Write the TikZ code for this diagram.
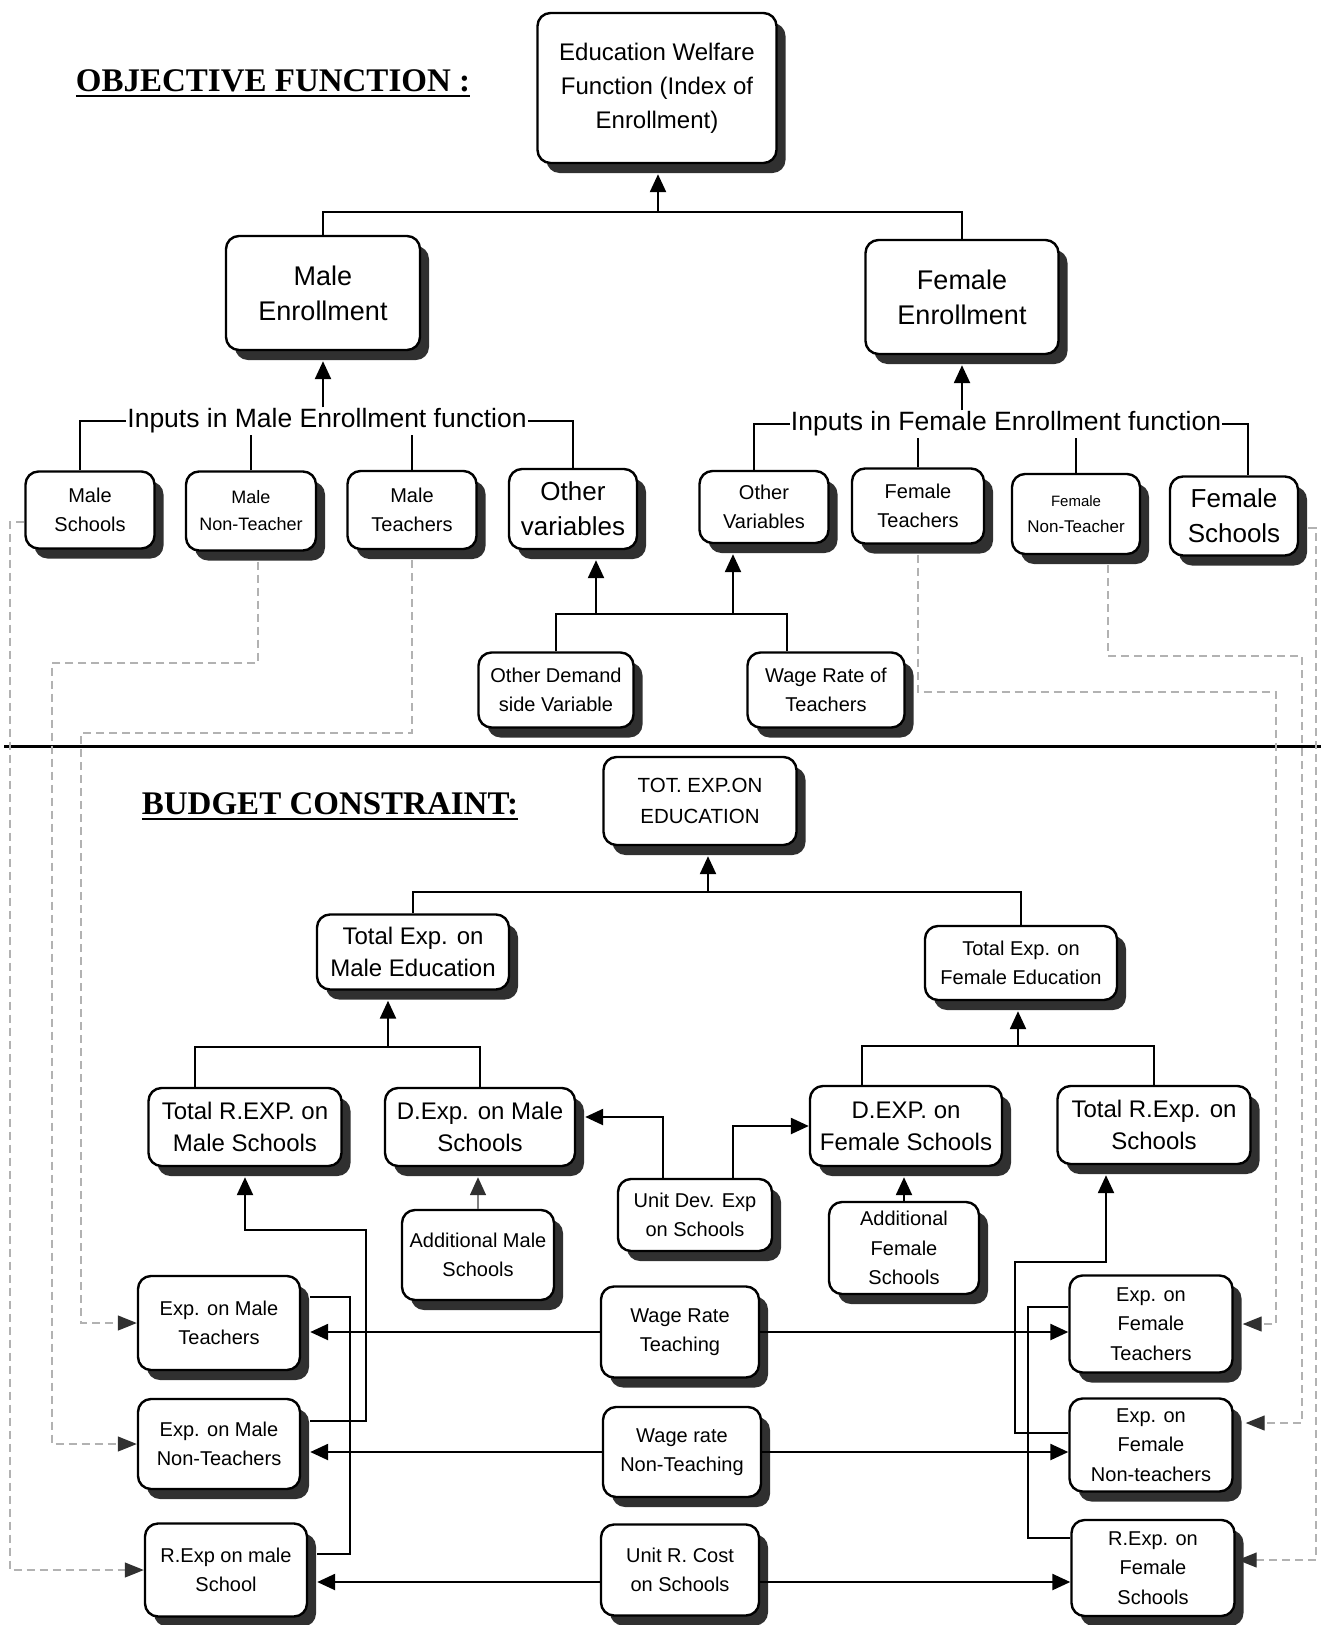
\documentclass[tikz,border=0pt]{standalone}
\usepackage{fontspec}
\setmainfont{Liberation Sans}
\newfontfamily\titlefont{Liberation Serif}
\usepackage{tikz}
\usetikzlibrary{arrows.meta, shadows}
\definecolor{shade}{RGB}{48,48,48}
\newcommand{\ulbar}[1]{\setbox0=\hbox{#1}\rlap{\rule[-6pt]{\wd0}{2.2pt}}\box0}

\begin{document}
\begin{tikzpicture}[x=1pt, y=-1pt,
  blk/.style={rectangle, draw, line width=2.4pt, rounded corners=13pt, fill=white,
              align=center, inner sep=2pt,
              drop shadow={shadow xshift=9pt, shadow yshift=-10pt, opacity=1, fill=shade}},
  sz/.style 2 args={minimum width=#1pt, minimum height=#2pt},
  t17/.style={font=\fontsize{17}{26}\selectfont},
  t18/.style={font=\fontsize{18}{27}\selectfont},
  t20/.style={font=\fontsize{20}{29.5}\selectfont},
  t24/.style={font=\fontsize{24}{32}\selectfont},
  t26/.style={font=\fontsize{26}{35}\selectfont},
  lbl/.style={font=\fontsize{26.5}{30}\selectfont, inner sep=1pt},
  ttl/.style={font=\titlefont\bfseries\fontsize{33}{36}\selectfont, inner sep=0pt},
  wire/.style={line width=2.4pt},
  arr/.style={wire, -{Triangle[length=18pt,width=16pt]}},
  arrg/.style={line width=1.6pt, draw=gray, -{Triangle[length=18pt,width=16pt,color=shade]}},
  darr/.style={line width=1.2pt, draw=gray!60, dash pattern=on 8pt off 5pt,
               -{Triangle[length=19pt,width=15pt,color=shade]}}
]
\useasboundingbox (0,0) rectangle (1321,1625);

% objective function
\node[ttl, anchor=base] (objt) at (273,91) {\ulbar{OBJECTIVE FUNCTION :}};
\node[blk, sz={239}{150}, font=\fontsize{24}{34}\selectfont] (welfare) at (657,88)
  {Education Welfare\\Function (Index of\\Enrollment)};
\node[blk, sz={194}{114}, font=\fontsize{27}{35}\selectfont] (maleenr) at (323,293) {Male\\Enrollment};
\node[blk, sz={193}{114}, font=\fontsize{27}{35}\selectfont] (femenr) at (962,297) {Female\\Enrollment};

\node[lbl] (inm) at (327,421) {Inputs in Male Enrollment function};
\node[lbl] (infm) at (1006,424) {Inputs in Female Enrollment function};

\node[blk, sz={129}{77}, t20] (mschool) at (90,510) {Male\\Schools};
\node[blk, sz={130}{79}, t18] (mnont) at (251,511) {Male\\Non-Teacher};
\node[blk, sz={129}{78}, t20] (mteach) at (412,510) {Male\\Teachers};
\node[blk, sz={128}{80}, t26] (othm) at (573,509) {Other\\variables};
\node[blk, sz={129}{72}, t20] (othf) at (764,507) {Other\\Variables};
\node[blk, sz={132}{75}, t20] (fteach) at (918,506) {Female\\Teachers};
\node[blk, sz={128}{80}, t17] (fnont) at (1076,514) {{\fontsize{15}{26}\selectfont Female}\\Non-Teacher};
\node[blk, sz={128}{79}, t26] (fschool) at (1234,516) {Female\\Schools};

\node[blk, sz={155}{75}, t20] (odem) at (556,690) {Other Demand\\side Variable};
\node[blk, sz={157}{75}, t20] (wage) at (826,690) {Wage Rate of\\Teachers};

\coordinate (wj) at (658,212);
\draw[wire] (maleenr.north) |- (wj) -| (femenr.north);
\draw[arr, shorten >=10pt] (wj) -- (wj |- welfare.south);

\draw[arr, shorten >=10pt] (maleenr.south |- inm.north) -- (maleenr.south);
\draw[wire] (inm.west) -| ([xshift=-10pt]mschool.north);
\draw[wire] (mnont.north) -- (mnont.north |- inm.south);
\draw[wire] (mteach.north) -- (mteach.north |- inm.south);
\draw[wire] (inm.east) -| (othm.north);

\draw[arr, shorten >=10pt] (femenr.south |- infm.north) -- (femenr.south);
\draw[wire] (infm.west) -| ([xshift=-10pt]othf.north);
\draw[wire] (fteach.north) -- (fteach.north |- infm.south);
\draw[wire] (fnont.north) -- (fnont.north |- infm.south);
\draw[wire] (infm.east) -| ([xshift=14pt]fschool.north);

\coordinate (ob1) at (556,614);
\coordinate (ob2) at (787,614);
\coordinate (oa1) at (596,614);
\coordinate (oa2) at (733,614);
\draw[wire] (odem.north) -- (ob1) -- (ob2) -- (ob2 |- wage.north);
\draw[arr, shorten >=10pt] (oa1) -- (oa1 |- othm.south);
\draw[arr, shorten >=10pt] (oa2) -- (oa2 |- othf.south);

\draw[line width=3pt] (4,746) -- (1321,746);

% budget constraint
\node[ttl, anchor=base] (budt) at (330,814) {\ulbar{BUDGET CONSTRAINT:}};
\node[blk, sz={193}{88}, font=\fontsize{20.5}{31}\selectfont] (totexp) at (700,801) {TOT. EXP.ON\\EDUCATION};
\node[blk, sz={192}{75}, t24] (totm) at (413,952) {Total Exp. on\\Male Education};
\node[blk, sz={192}{74}, t20] (totf) at (1021,963) {Total Exp. on\\Female Education};

\node[blk, sz={193}{78}, t24] (trm) at (245,1127) {Total R.EXP. on\\Male Schools};
\node[blk, sz={190}{78}, t24] (dm) at (480,1127) {D.Exp. on Male\\Schools};
\node[blk, sz={192}{80}, t24] (df) at (906,1126) {D.EXP. on\\Female Schools};
\node[blk, sz={193}{78}, t24] (trf) at (1154,1125) {Total R.Exp. on\\Schools};

\node[blk, sz={154}{72}, t20] (udev) at (695,1215) {Unit Dev. Exp\\on Schools};
\node[blk, sz={152}{90}, t20] (addm) at (478,1255) {Additional Male\\Schools};
\node[blk, sz={150}{92}, t20] (addf) at (904,1248) {Additional\\Female\\Schools};

\node[blk, sz={162}{94}, t20] (emt) at (219,1323) {Exp. on Male\\Teachers};
\node[blk, sz={162}{90}, t20] (emn) at (219,1444) {Exp. on Male\\Non-Teachers};
\node[blk, sz={162}{93}, t20] (rem) at (226,1570) {R.Exp on male\\School};

\node[blk, sz={158}{91}, t20] (wrt) at (680,1332) {Wage Rate\\Teaching};
\node[blk, sz={158}{90}, t20] (wrn) at (682,1452) {Wage rate\\Non-Teaching};
\node[blk, sz={158}{91}, t20] (urc) at (680,1570) {Unit R. Cost\\on Schools};

\node[blk, sz={163}{97}, t20] (eft) at (1151,1324) {Exp. on\\Female\\Teachers};
\node[blk, sz={163}{93}, t20] (efn) at (1151,1445) {Exp. on\\Female\\Non-teachers};
\node[blk, sz={163}{96}, t20] (ref) at (1153,1568) {R.Exp. on\\Female\\Schools};

\coordinate (tj) at (708,892);
\draw[wire] (totm.north) |- (tj) -| (totf.north);
\draw[arr, shorten >=10pt] (tj) -- (tj |- totexp.south);

\coordinate (mj) at (388,1047);
\draw[wire] ([xshift=-50pt]trm.north) |- (mj) -| (dm.north);
\draw[arr, shorten >=10pt] (mj) -- (mj |- totm.south);

\coordinate (fj) at (1018,1046);
\draw[wire] ([xshift=-44pt]df.north) |- (fj) -| (trf.north);
\draw[arr, shorten >=10pt] (fj) -- (fj |- totf.south);

\draw[arr, shorten >=9pt] ([xshift=-32pt]udev.north) |- ([yshift=10pt]dm.east);
\draw[arr] ([xshift=38pt]udev.north) |- (df.west);
\draw[arrg, shorten >=10pt] (addm.north) -- (addm.north |- dm.south);
\draw[arr, shorten >=10pt] (addf.north) -- (addf.north |- df.south);

% rates to expenditures
\coordinate (uc) at ([yshift=-12pt]urc.center);
\draw[arr, shorten >=9pt] (wrt.west) -- (wrt.west -| emt.east);
\draw[arr] (wrt.east) -- (wrt.east -| eft.west);
\draw[arr, shorten >=9pt] (wrn.west) -- (wrn.west -| emn.east);
\draw[arr] (wrn.east) -- (wrn.east -| efn.west);
\draw[arr, shorten >=9pt] (uc -| urc.west) -- (uc -| rem.east);
\draw[arr] (uc -| urc.east) -- (uc -| ref.west);

% recurrent expenditure totals
\coordinate (lk1) at (366,1230);
\coordinate (lk2) at (350,1420);
\draw[arr, shorten >=10pt] ([xshift=9pt,yshift=23pt]emn.east) -| (lk1) -| (trm.south);
\draw[wire] ([xshift=9pt,yshift=26pt]emt.east) -| (lk2) |- ([xshift=9pt,yshift=16pt]rem.east);

\coordinate (rk1) at (1015,1262);
\coordinate (rk2) at (1028,1420);
\draw[arr, shorten >=10pt] ([yshift=12pt]efn.west) -| (rk1) -| ([xshift=-48pt]trf.south);
\draw[wire] ([yshift=17pt]eft.west) -| (rk2) |- ([yshift=30pt]ref.west);

% dashed links from inputs
\coordinate (d1) at (10,1570);
\draw[darr] ([yshift=-12pt]mschool.west) -| (d1) -- (d1 -| rem.west);
\coordinate (d2) at (52,663);
\draw[darr] ([xshift=7pt,yshift=-10pt]mnont.south) |- (d2) |- (emn.west);
\coordinate (d3) at (81,733);
\draw[darr] ([yshift=-10pt]mteach.south) |- (d3) |- (emt.west);
\coordinate (d4) at (1276,692);
\draw[darr, shorten >=9pt] ([yshift=-10pt]fteach.south) |- (d4) |- (eft.east);
\coordinate (d5) at (1302,656);
\draw[darr, shorten >=12pt] ([xshift=32pt,yshift=-10pt]fnont.south) |- (d5) |- ([yshift=22pt]efn.east);
\coordinate (d6) at (1316,1560);
\draw[darr, shorten >=2pt] ([xshift=9pt,yshift=-12pt]fschool.east) -| (d6) -- (d6 -| ref.east);
\end{tikzpicture}
\end{document}
